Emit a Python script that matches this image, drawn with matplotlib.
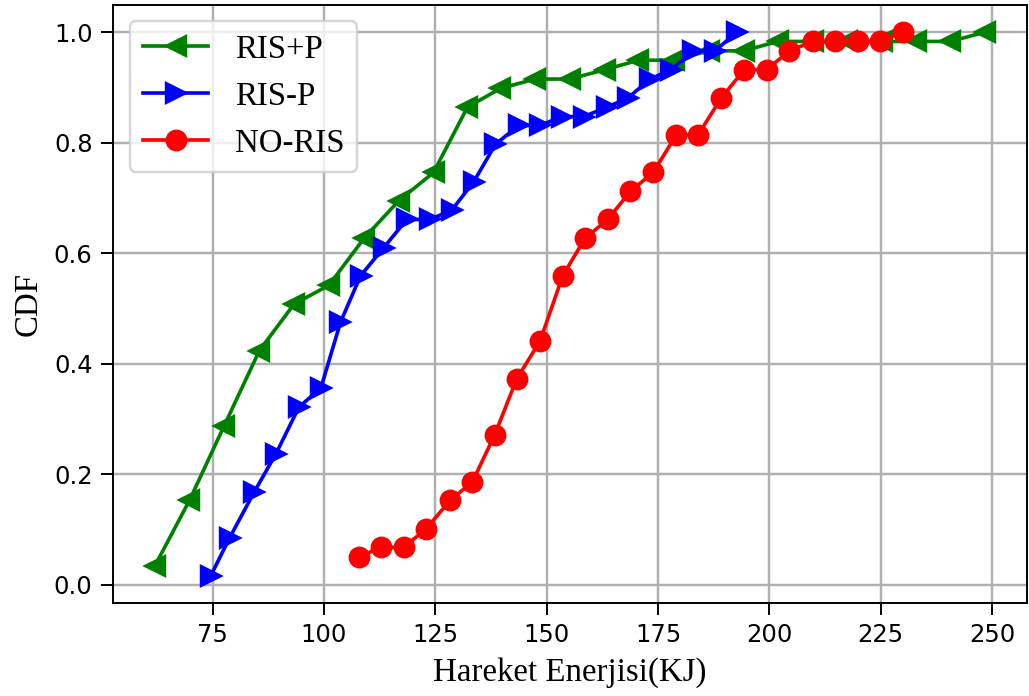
import matplotlib
matplotlib.use("Agg")
import matplotlib.pyplot as plt

# RIS+P
x_ris_p_plus = [62.0, 69.8, 77.6, 85.5, 93.3, 101.1, 109.0, 116.8, 124.6, 132.2,
                139.6, 147.4, 155.2, 163.1, 170.6, 178.6, 186.4, 194.2, 201.9,
                209.7, 217.5, 225.3, 232.9, 240.6, 248.5]
y_ris_p_plus = [0.034, 0.153, 0.288, 0.424, 0.508, 0.542, 0.627, 0.695, 0.746, 0.864,
                0.898, 0.915, 0.915, 0.932, 0.949, 0.949, 0.966, 0.966, 0.983,
                0.983, 0.983, 0.983, 0.983, 0.983, 1.0]

# RIS-P
x_ris_p_minus = [74.6, 78.8, 84.4, 89.2, 94.4, 99.3, 103.7, 108.2, 113.4, 118.6,
                 123.8, 128.7, 133.6, 138.5, 143.7, 148.5, 153.4, 158.3, 163.5,
                 168.3, 173.2, 178.0, 182.9, 187.8, 192.7]
y_ris_p_minus = [0.017, 0.085, 0.169, 0.237, 0.322, 0.356, 0.475, 0.559, 0.610, 0.661,
                 0.661, 0.678, 0.729, 0.797, 0.831, 0.831, 0.847, 0.847, 0.864,
                 0.881, 0.915, 0.932, 0.966, 0.966, 1.0]

# NO-RIS
x_no_ris = [107.8, 112.9, 117.9, 123.0, 128.3, 133.3, 138.3, 143.3, 148.5, 153.6,
            158.6, 163.7, 168.8, 173.9, 179.1, 184.0, 189.2, 194.4, 199.4,
            204.5, 209.7, 214.7, 219.8, 224.8, 229.9]
y_no_ris = [0.051, 0.068, 0.068, 0.102, 0.153, 0.186, 0.271, 0.373, 0.441, 0.559,
            0.627, 0.661, 0.712, 0.746, 0.814, 0.814, 0.881, 0.932, 0.932,
            0.966, 0.983, 0.983, 0.983, 0.983, 1.0]

serif = ['Liberation Serif', 'DejaVu Serif']

fig, ax = plt.subplots(figsize=(1029 / 175, 696 / 175), dpi=175)
fig.subplots_adjust(left=0.110, right=0.998, bottom=0.134, top=0.993)

ax.plot(x_ris_p_plus, y_ris_p_plus, '-<', color='green', lw=1.5, ms=8, label='RIS+P')
ax.plot(x_ris_p_minus, y_ris_p_minus, '->', color='blue', lw=1.5, ms=8, label='RIS-P')
ax.plot(x_no_ris, y_no_ris, '-o', color='red', lw=1.5, ms=8, label='NO-RIS')

ax.set_xticks([75, 100, 125, 150, 175, 200, 225, 250])
ax.tick_params(labelsize=10, length=5)
ax.grid(True, color='#b0b0b0', lw=1.0)
ax.set_xlabel('Hareket Enerjisi(KJ)', fontsize=13.5, family=serif)
ax.set_ylabel('CDF', fontsize=13.5, family=serif)
ax.legend(loc='upper left', prop={'family': serif, 'size': 13.5})

fig.savefig('out.png', dpi=175)
